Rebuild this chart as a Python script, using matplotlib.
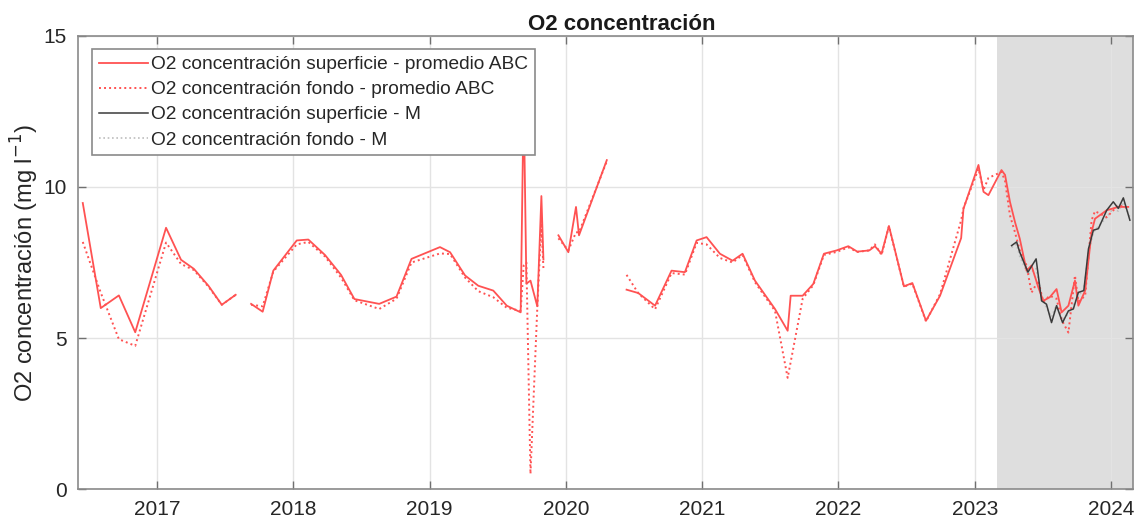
import numpy as np
import matplotlib
matplotlib.use("Agg")
import matplotlib.pyplot as plt

nan = np.nan

# ==============================
# Data (decimal years, mg l-1)
# ==============================
t_abc = [
    2016.455, 2016.587, 2016.72, 2016.84, 2017.066, 2017.176, 2017.27, 2017.377, 2017.475, 2017.577,
    2017.63,
    2017.69, 2017.775, 2017.853, 2018.025, 2018.11, 2018.232, 2018.35, 2018.448, 2018.63, 2018.757,
    2018.867, 2019.076, 2019.15, 2019.26, 2019.357, 2019.467, 2019.566, 2019.668, 2019.69, 2019.71,
    2019.74, 2019.79, 2019.82, 2019.835,
    2019.9,
    2019.945, 2020.018, 2020.074, 2020.096, 2020.30,
    2020.37,
    2020.445, 2020.53, 2020.654, 2020.775, 2020.873, 2020.959, 2021.032, 2021.13, 2021.223, 2021.296,
    2021.387, 2021.448, 2021.534, 2021.627, 2021.649, 2021.737, 2021.815, 2021.893, 2021.986, 2022.072,
    2022.138, 2022.226, 2022.267, 2022.316, 2022.37, 2022.48, 2022.542, 2022.642, 2022.745, 2022.90,
    2022.917, 2023.027, 2023.064, 2023.10, 2023.196, 2023.222, 2023.258, 2023.295, 2023.33, 2023.38,
    2023.416, 2023.466, 2023.502, 2023.55, 2023.60, 2023.637, 2023.687, 2023.735, 2023.76, 2023.81,
    2023.857, 2023.882, 2023.968, 2024.053, 2024.126,
]

sup_abc = [
    9.47, 5.99, 6.41, 5.19, 8.65, 7.59, 7.29, 6.73, 6.10, 6.43,
    nan,
    6.13, 5.87, 7.23, 8.23, 8.26, 7.75, 7.09, 6.29, 6.13, 6.37,
    7.62, 8.01, 7.84, 7.07, 6.73, 6.57, 6.07, 5.85, 13.0, 6.80,
    6.90, 6.05, 9.70, 7.60,
    nan,
    8.40, 7.84, 9.34, 8.40, 10.89,
    nan,
    6.60, 6.49, 6.07, 7.23, 7.18, 8.23, 8.34, 7.79, 7.56, 7.79,
    6.90, 6.51, 5.96, 5.24, 6.40, 6.40, 6.79, 7.79, 7.90, 8.04,
    7.86, 7.90, 8.04, 7.79, 8.71, 6.71, 6.82, 5.57, 6.40, 8.31,
    9.28, 10.73, 9.84, 9.73, 10.56, 10.40, 9.51, 8.84, 8.29, 7.23,
    7.40, 6.68, 6.23, 6.35, 6.62, 5.85, 6.07, 6.90, 6.07, 6.57,
    8.51, 8.95, 9.23, 9.34, 9.34,
]

fon_abc = [
    8.18, 6.50, 4.96, 4.74, 8.16, 7.45, 7.25, 6.70, 6.10, 6.43,
    nan,
    6.10, 6.05, 7.20, 8.10, 8.18, 7.70, 7.00, 6.25, 5.96, 6.30,
    7.50, 7.80, 7.78, 7.00, 6.55, 6.35, 6.00, 5.90, 7.40, 7.50,
    0.50, 6.00, 8.80, 7.30,
    nan,
    8.30, 7.90, 8.50, 8.50, 10.85,
    nan,
    7.09, 6.49, 5.95, 7.15, 7.10, 8.15, 8.10, 7.65, 7.50, 7.75,
    6.85, 6.45, 5.90, 3.68, 4.20, 6.30, 6.75, 7.75, 7.85, 8.00,
    7.85, 7.90, 8.10, 7.75, 8.70, 6.70, 6.80, 5.55, 6.45, 8.90,
    9.30, 10.60, 9.90, 10.30, 10.50, 10.20, 9.06, 8.50, 7.90, 7.40,
    6.50, 6.90, 6.20, 6.40, 6.30, 5.60, 5.18, 7.07, 6.20, 6.40,
    8.90, 9.20, 9.00, 9.40, 9.30,
]

t_m = [
    2023.27, 2023.307, 2023.33, 2023.39, 2023.45, 2023.49, 2023.526, 2023.563, 2023.60, 2023.644, 2023.687,
    2023.723, 2023.76, 2023.80, 2023.834, 2023.87, 2023.907, 2023.968, 2024.016, 2024.053, 2024.09, 2024.138,
]
sup_m = [8.06, 8.18, 7.84, 7.18, 7.62, 6.23, 6.12, 5.51, 6.07, 5.51, 5.90,
         5.96, 6.51, 6.57, 7.95, 8.57, 8.62, 9.23, 9.51, 9.29, 9.64, 8.90]
fon_m = [8.00, 8.10, 7.70, 7.10, 7.30, 6.40, 6.00, 5.70, 6.10, 5.60, 5.80,
         6.10, 6.40, 6.60, 7.80, 8.50, 8.70, 9.00, 9.30, 9.20, 9.50, 9.00]

assert len(t_abc) == len(sup_abc) == len(fon_abc)

years = [2017, 2018, 2019, 2020, 2021, 2022, 2023, 2024]
shade_start = 2023.163
xlim = (2016.42, 2024.161)

labels = ["O2 concentración superficie - promedio ABC",
          "O2 concentración fondo - promedio ABC",
          "O2 concentración superficie - M",
          "O2 concentración fondo - M"]

# ==============================
# Plot
# ==============================
plt.rcParams["font.family"] = ["Liberation Sans", "DejaVu Sans"]

fig = plt.figure(figsize=(11.37, 5.27), dpi=100)
ax = fig.add_axes([0.0686, 0.0721, 0.9279, 0.8596])

ax.axvspan(shade_start, xlim[1], color="#dedede", zorder=0, lw=0)

red = "#ff5252"
ax.plot(t_abc, sup_abc, color=red, lw=1.3, label=labels[0], zorder=3)
ax.plot(t_abc, fon_abc, color=red, lw=1.4, ls=(0, (1, 1.6)), label=labels[1], zorder=3)
ax.plot(t_m, sup_m, color="#3a3a3a", lw=1.1, label=labels[2], zorder=4)
ax.plot(t_m, fon_m, color="#bdbdbd", lw=1.2, ls=(0, (1, 1.6)), label=labels[3], zorder=2)

ax.set_xlim(*xlim)
ax.set_ylim(0, 15)
ax.set_xticks(years)
ax.set_xticklabels([str(y) for y in years])
ax.set_yticks([0, 5, 10, 15])

ax.grid(True, color="#e3e3e3", lw=1.0)
ax.tick_params(direction="in", length=6, width=1, color="#707070",
               labelsize=15, labelcolor="#262626", top=True, right=True, pad=8)
for s in ax.spines.values():
    s.set_color("#8a8a8a")
    s.set_linewidth(1.2)

ax.set_ylabel("O2 concentración (mg l$^{-1}$)", fontsize=17, color="#262626", labelpad=2)
ax.set_title("O2 concentración", fontsize=16, fontweight="bold", color="#1a1a1a",
             pad=4, x=0.515)

leg = ax.legend(loc="upper left", bbox_to_anchor=(0.0133, 0.971), borderaxespad=0,
                fontsize=13.8, frameon=True, fancybox=False, framealpha=1,
                edgecolor="#8a8a8a", handlelength=2.55, handletextpad=0.2,
                labelspacing=0.4, borderpad=0.35)
leg.get_frame().set_linewidth(1.2)
leg.set_zorder(10)
for txt in leg.get_texts():
    txt.set_color("#262626")

fig.savefig("out.png", dpi=100)
